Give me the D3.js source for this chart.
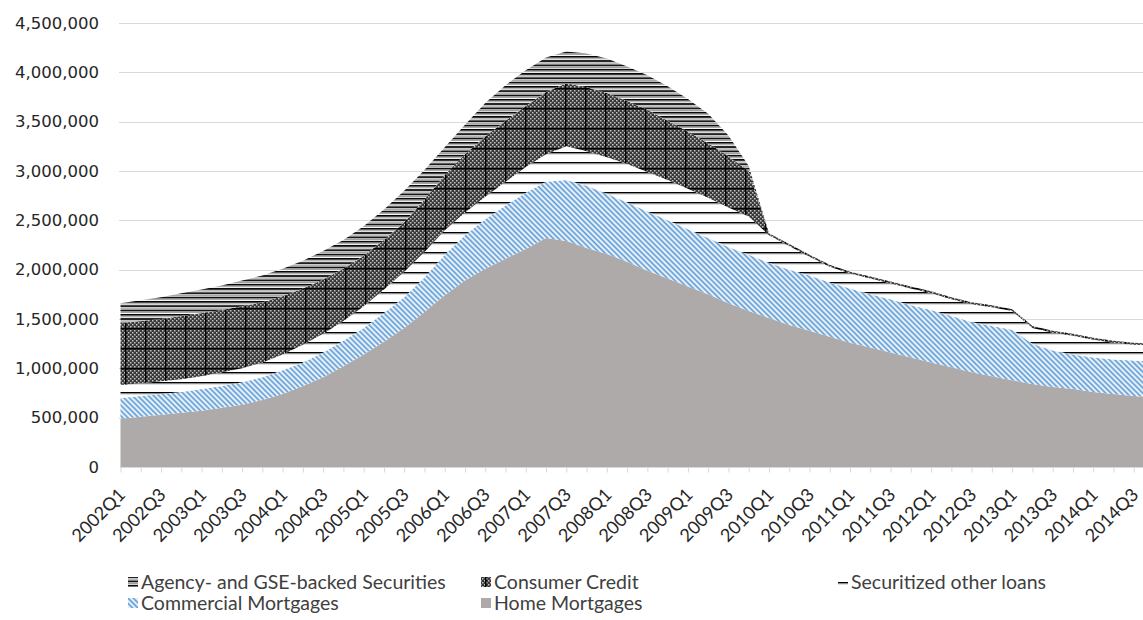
<!DOCTYPE html>
<html>
<head>
<meta charset="utf-8">
<script src="https://cdn.jsdelivr.net/npm/d3@7"></script>
<style>
  html, body { margin: 0; padding: 0; background: #fff; overflow: hidden; }
  svg { display: block; }
</style>
</head>
<body>
<svg id="chart" width="1143" height="620"></svg>
<script>
// Quarterly categories, 2002Q1 - 2014Q4
const quarters = [
  "2002Q1","2002Q2","2002Q3","2002Q4",
  "2003Q1","2003Q2","2003Q3","2003Q4",
  "2004Q1","2004Q2","2004Q3","2004Q4",
  "2005Q1","2005Q2","2005Q3","2005Q4",
  "2006Q1","2006Q2","2006Q3","2006Q4",
  "2007Q1","2007Q2","2007Q3","2007Q4",
  "2008Q1","2008Q2","2008Q3","2008Q4",
  "2009Q1","2009Q2","2009Q3","2009Q4",
  "2010Q1","2010Q2","2010Q3","2010Q4",
  "2011Q1","2011Q2","2011Q3","2011Q4",
  "2012Q1","2012Q2","2012Q3","2012Q4",
  "2013Q1","2013Q2","2013Q3","2013Q4",
  "2014Q1","2014Q2","2014Q3","2014Q4"
];

// Stacked series, bottom to top
const homeMortgages = [
  490000, 510000, 530000, 550000,
  570000, 600000, 630000, 680000,
  740000, 820000, 910000, 1020000,
  1140000, 1270000, 1410000, 1570000,
  1740000, 1890000, 2010000, 2110000,
  2210000, 2320000, 2290000, 2220000,
  2160000, 2080000, 1990000, 1910000,
  1830000, 1750000, 1660000, 1580000,
  1510000, 1440000, 1380000, 1320000,
  1260000, 1210000, 1160000, 1110000,
  1060000, 1010000, 960000, 920000,
  880000, 840000, 810000, 790000,
  760000, 740000, 720000, 700000
];
const commercialMortgages = [
  210000, 210000, 210000, 210000,
  220000, 220000, 230000, 230000,
  240000, 240000, 250000, 260000,
  270000, 290000, 310000, 350000,
  410000, 460000, 500000, 540000,
  570000, 570000, 620000, 630000,
  610000, 600000, 600000, 590000,
  580000, 570000, 570000, 570000,
  560000, 560000, 560000, 550000,
  550000, 540000, 540000, 530000,
  530000, 520000, 510000, 510000,
  510000, 410000, 370000, 350000,
  350000, 350000, 360000, 370000
];
const securitizedOther = [
  130000, 130000, 130000, 130000,
  130000, 140000, 140000, 150000,
  160000, 180000, 190000, 200000,
  220000, 240000, 260000, 260000,
  250000, 230000, 230000, 240000,
  260000, 280000, 340000, 350000,
  370000, 390000, 400000, 410000,
  410000, 410000, 400000, 390000,
  280000, 240000, 190000, 160000,
  150000, 160000, 160000, 170000,
  170000, 170000, 180000, 190000,
  190000, 160000, 180000, 190000,
  180000, 170000, 160000, 160000
];
const consumerCredit = [
  630000, 630000, 630000, 640000,
  640000, 630000, 630000, 610000,
  590000, 570000, 550000, 530000,
  510000, 500000, 500000, 530000,
  560000, 590000, 610000, 620000,
  620000, 630000, 640000, 650000,
  650000, 640000, 630000, 600000,
  580000, 550000, 520000, 460000,
  20000, 20000, 20000, 20000,
  20000, 20000, 20000, 20000,
  20000, 20000, 20000, 20000,
  20000, 20000, 20000, 20000,
  20000, 20000, 20000, 20000
];
const agencyGSE = [
  200000, 210000, 220000, 230000,
  240000, 250000, 260000, 270000,
  280000, 280000, 290000, 290000,
  300000, 310000, 320000, 300000,
  280000, 300000, 340000, 360000,
  360000, 350000, 320000, 340000,
  350000, 350000, 350000, 350000,
  330000, 300000, 210000, 50000,
  0, 0, 0, 0,
  0, 0, 0, 0,
  0, 0, 0, 0,
  0, 0, 0, 0,
  0, 0, 0, 0
];

const yTicks = [0, 500000, 1000000, 1500000, 2000000, 2500000, 3000000, 3500000, 4000000, 4500000];

const seriesKeys = ["home", "commercial", "securitized", "consumer", "agency"];
const seriesNames = {
  agency: "Agency- and GSE-backed Securities",
  consumer: "Consumer Credit",
  securitized: "Securitized other loans",
  commercial: "Commercial Mortgages",
  home: "Home Mortgages"
};
const legendOrder = [["agency", "consumer", "securitized"], ["commercial", "home"]];

const rows = quarters.map((q, i) => ({
  q,
  home: homeMortgages[i],
  commercial: commercialMortgages[i],
  securitized: securitizedOther[i],
  consumer: consumerCredit[i],
  agency: agencyGSE[i]
}));

const svg = d3.select("#chart");
const W = 1143, H = 620;
const plot = { left: 120.5, right: 1154, top: 23, bottom: 467 };

const x = d3.scalePoint().domain(quarters).range([plot.left, plot.right]).padding(0);
const y = d3.scaleLinear().domain([0, 4500000]).range([plot.bottom, plot.top]);

// ---- fill patterns ----
const defs = svg.append("defs");

// Agency: dense horizontal bands
const pA = defs.append("pattern").attr("id", "pat-agency")
  .attr("patternUnits", "userSpaceOnUse").attr("width", 8).attr("height", 4.3);
pA.append("rect").attr("width", 8).attr("height", 4.3).attr("fill", "#fff");
pA.append("rect").attr("y", 0).attr("width", 8).attr("height", 1.6).attr("fill", "#000");
pA.append("rect").attr("y", 2.2).attr("width", 8).attr("height", 1.1).attr("fill", "#8a8a8a");

// Consumer credit: grey speckle with a black trellis
const pSp = defs.append("pattern").attr("id", "pat-speck")
  .attr("patternUnits", "userSpaceOnUse").attr("width", 4).attr("height", 4);
pSp.append("rect").attr("width", 4).attr("height", 4).attr("fill", "#383838");
pSp.append("rect").attr("x", 0).attr("y", 0).attr("width", 1.5).attr("height", 1.5).attr("fill", "#c4c4c4");
pSp.append("rect").attr("x", 2).attr("y", 2).attr("width", 1.5).attr("height", 1.5).attr("fill", "#c4c4c4");
const pC = defs.append("pattern").attr("id", "pat-consumer")
  .attr("patternUnits", "userSpaceOnUse").attr("width", 20).attr("height", 20);
pC.append("rect").attr("width", 20).attr("height", 20).attr("fill", "url(#pat-speck)");
pC.append("rect").attr("x", 5).attr("width", 1.5).attr("height", 20).attr("fill", "#000");
pC.append("rect").attr("y", 8).attr("width", 20).attr("height", 1.5).attr("fill", "#000");

// Securitized: sparse horizontal lines on white
const pS = defs.append("pattern").attr("id", "pat-securitized")
  .attr("patternUnits", "userSpaceOnUse").attr("y", 2).attr("width", 8).attr("height", 10);
pS.append("rect").attr("width", 8).attr("height", 10).attr("fill", "#fff");
pS.append("rect").attr("y", 0).attr("width", 8).attr("height", 1.5).attr("fill", "#000");
pS.append("rect").attr("y", 1.5).attr("width", 8).attr("height", 0.8).attr("fill", "#9a9a9a");

// Commercial: blue downward diagonals
const pM = defs.append("pattern").attr("id", "pat-commercial")
  .attr("patternUnits", "userSpaceOnUse").attr("width", 3.75).attr("height", 10)
  .attr("patternTransform", "rotate(-45)");
pM.append("rect").attr("width", 3.75).attr("height", 10).attr("fill", "#fff");
pM.append("rect").attr("x", 0.4).attr("width", 1.8).attr("height", 10).attr("fill", "#5B9BD5");
pM.append("rect").attr("x", 0).attr("width", 0.4).attr("height", 10).attr("fill", "#a9c9ea");
pM.append("rect").attr("x", 2.2).attr("width", 0.4).attr("height", 10).attr("fill", "#a9c9ea");

const fills = {
  home: "#AEAAAA",
  commercial: "url(#pat-commercial)",
  securitized: "url(#pat-securitized)",
  consumer: "url(#pat-consumer)",
  agency: "url(#pat-agency)"
};

// ---- gridlines ----
svg.append("g").selectAll("line").data(yTicks.filter(d => d > 0)).join("line")
  .attr("x1", 119).attr("x2", W)
  .attr("y1", d => Math.round(y(d)) + 0.5).attr("y2", d => Math.round(y(d)) + 0.5)
  .attr("stroke", "#D9D9D9").attr("stroke-width", 1);

// ---- stacked areas ----
const stack = d3.stack().keys(seriesKeys);
const layers = stack(rows);
const area = d3.area()
  .x(d => x(d.data.q))
  .y0(d => y(d[0]))
  .y1(d => y(d[1]))
  .curve(d3.curveLinear);

svg.append("g").selectAll("path").data(layers).join("path")
  .attr("d", area)
  .attr("fill", d => fills[d.key]);

// ---- x axis ----
const xAxis = d3.axisBottom(x)
  .tickValues(quarters)
  .tickSize(5)
  .tickSizeOuter(0)
  .tickFormat((d, i) => (i % 2 === 0 ? d : ""));
const gx = svg.append("g")
  .attr("transform", `translate(0,${Math.round(plot.bottom) + 0.5})`)
  .call(xAxis);
gx.select(".domain").attr("stroke", "#D9D9D9").attr("d", `M${plot.left - 0.5},0H${W}`);
gx.selectAll(".tick line").attr("stroke", "#D9D9D9");
gx.selectAll(".tick text")
  .attr("x", 0).attr("y", 0).attr("dy", "0.35em")
  .attr("transform", "translate(1,24) rotate(-45)")
  .attr("text-anchor", "end")
  .attr("fill", "#262626")
  .style("font-family", "Lato, sans-serif")
  .style("font-size", "18px");

// ---- y axis labels ----
const yAxis = d3.axisLeft(y).tickValues(yTicks).tickSize(0).tickPadding(0).tickFormat(d3.format(","));
const gy = svg.append("g").attr("transform", "translate(99,0)").call(yAxis);
gy.select(".domain").remove();
gy.selectAll(".tick text")
  .attr("fill", "#262626")
  .style("font-family", "'DejaVu Sans', sans-serif")
  .style("font-size", "16.5px");

// ---- legend ----
const legendX = [128, 481, 838];
const legendY = [577, 598];
const lg = svg.append("g");
legendOrder.forEach((row, r) => {
  row.forEach((key, c) => {
    const gx0 = legendX[c], gy0 = legendY[r];
    lg.append("rect").attr("x", gx0).attr("y", gy0).attr("width", 10).attr("height", 10)
      .attr("fill", fills[key]);
    lg.append("text").attr("x", gx0 + 13).attr("y", gy0 + 5).attr("dy", "0.35em")
      .attr("fill", "#404040")
      .style("font-family", "Lato, sans-serif")
      .style("font-size", "19.5px")
      .text(seriesNames[key]);
  });
});
</script>
</body>
</html>
